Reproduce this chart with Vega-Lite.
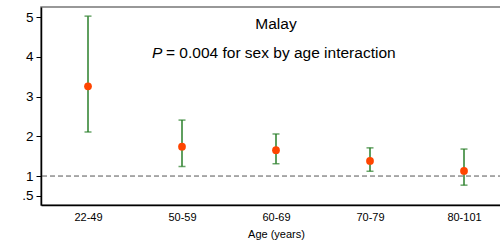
{
  "$schema": "https://vega.github.io/schema/vega-lite/v6.json",
  "autosize": {"type": "none"},
  "width": 470,
  "height": 198,
  "padding": {"left": 41, "top": 7, "right": 0, "bottom": 43},
  "background": "white",
  "config": {
    "view": {"stroke": "#777777", "strokeWidth": 1.5},
    "font": "Liberation Sans",
    "axis": {"labelFont": "Liberation Sans", "titleFont": "Liberation Sans", "labelColor": "black", "titleColor": "black"},
    "axisY": {"labelOverlap": false, "grid": false, "tickSize": 5, "tickColor": "black", "domainColor": "black", "domainWidth": 1.5, "labelFontSize": 13.5, "labelPadding": 3, "tickCount": 12}
  },
  "data": {
    "values": [
      {"age": "22-49", "est": 3.26, "lo": 2.11, "hi": 5.03},
      {"age": "50-59", "est": 1.74, "lo": 1.24, "hi": 2.41},
      {"age": "60-69", "est": 1.65, "lo": 1.31, "hi": 2.06},
      {"age": "70-79", "est": 1.38, "lo": 1.12, "hi": 1.71},
      {"age": "80-101", "est": 1.13, "lo": 0.77, "hi": 1.68}
    ]
  },
  "encoding": {
    "x": {
      "field": "age",
      "type": "ordinal",
      "sort": null,
      "scale": {"type": "point", "padding": 0.5},
      "axis": {
        "title": "Age (years)",
        "labelAngle": 0,
        "ticks": false,
        "labelPadding": 6,
        "labelFontSize": 11,
        "labelFontWeight": "normal",
        "titleFontSize": 11,
        "titleFontWeight": "normal",
        "titlePadding": 6,
        "domainColor": "black",
        "domainWidth": 1.5
      }
    }
  },
  "layer": [
    {
      "data": {"values": [{"ref": 1}]},
      "mark": {"type": "rule", "color": "#555555", "strokeDash": [5, 3], "strokeWidth": 1},
      "encoding": {
        "x": null,
        "y": {
          "field": "ref",
          "type": "quantitative",
          "scale": {"domain": [0.27, 5.26], "nice": false, "zero": false},
          "axis": {
            "title": null,
            "values": [0.5, 1, 2, 3, 4, 5],
            "tickCount": 12,
            "labelExpr": "datum.value == 0.5 ? '.5' : format(datum.value, '~g')",
            "labelOverlap": false
          }
        }
      }
    },
    {
      "mark": {"type": "rule", "color": "#2a7f2a", "strokeWidth": 1.5},
      "encoding": {
        "y": {
          "field": "lo",
          "type": "quantitative",
          "axis": {
            "title": null,
            "values": [0.5, 1, 2, 3, 4, 5],
            "tickCount": 12,
            "labelExpr": "datum.value == 0.5 ? '.5' : format(datum.value, '~g')",
            "labelOverlap": false
          }
        },
        "y2": {"field": "hi"}
      }
    },
    {
      "mark": {"type": "tick", "color": "#2a7f2a", "size": 7, "thickness": 1.5, "orient": "horizontal"},
      "encoding": {"y": {"field": "hi", "type": "quantitative", "axis": {"title": null, "values": [0.5, 1, 2, 3, 4, 5], "tickCount": 12, "labelExpr": "datum.value == 0.5 ? '.5' : format(datum.value, '~g')", "labelOverlap": false}}}
    },
    {
      "mark": {"type": "tick", "color": "#2a7f2a", "size": 7, "thickness": 1.5, "orient": "horizontal"},
      "encoding": {"y": {"field": "lo", "type": "quantitative", "axis": {"title": null, "values": [0.5, 1, 2, 3, 4, 5], "tickCount": 12, "labelExpr": "datum.value == 0.5 ? '.5' : format(datum.value, '~g')", "labelOverlap": false}}}
    },
    {
      "mark": {"type": "point", "filled": true, "color": "#ff4500", "size": 60, "opacity": 1},
      "encoding": {"y": {"field": "est", "type": "quantitative", "axis": {"title": null, "values": [0.5, 1, 2, 3, 4, 5], "tickCount": 12, "labelExpr": "datum.value == 0.5 ? '.5' : format(datum.value, '~g')", "labelOverlap": false}}}
    },
    {
      "data": {"values": [{"label": "Malay"}]},
      "mark": {"type": "text", "fontSize": 15.5, "align": "center", "baseline": "middle", "color": "black"},
      "encoding": {
        "x": {"datum": "60-69"},
        "y": {"datum": 4.84},
        "text": {"field": "label"}
      }
    },
    {
      "data": {"values": [{"label": "P"}]},
      "mark": {"type": "text", "fontSize": 15.5, "fontStyle": "italic", "align": "left", "baseline": "middle", "dx": -124, "color": "black"},
      "encoding": {
        "x": {"datum": "60-69"},
        "y": {"datum": 4.1},
        "text": {"field": "label"}
      }
    },
    {
      "data": {"values": [{"label": "= 0.004 for sex by age interaction"}]},
      "mark": {"type": "text", "fontSize": 15.5, "align": "left", "baseline": "middle", "dx": -110, "color": "black"},
      "encoding": {
        "x": {"datum": "60-69"},
        "y": {"datum": 4.1},
        "text": {"field": "label"}
      }
    }
  ]
}
